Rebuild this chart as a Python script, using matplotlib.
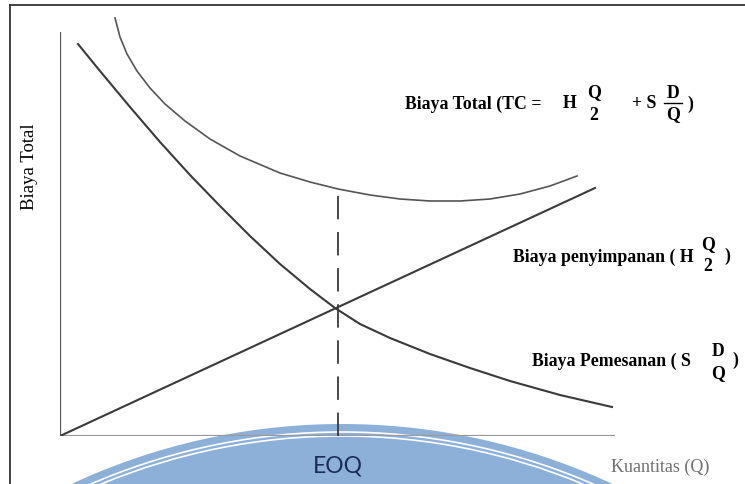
import matplotlib.pyplot as plt
from matplotlib.patches import Circle

# kurva biaya (satuan: piksel dari titik asal grafik)
q_simpan = [0, 535]
c_simpan = [0, 248]

q_pesan = [18, 40, 70, 100, 130, 160, 190, 220, 250, 275, 300, 330, 370, 410, 450, 500, 552]
c_pesan = [392, 365, 329, 294, 261, 230, 200, 172, 147, 128, 112, 98, 82, 68, 55, 41, 29]

q_total = [55, 60, 67, 77, 90, 105, 125, 150, 180, 220, 250, 278, 310, 340, 370, 400, 430, 460, 490, 517]
c_total = [418, 399, 382, 365, 348, 332, 315, 297, 280, 263, 254, 247, 241, 237, 235, 235, 237, 242, 250, 260]

q_eoq = 278
c_eoq = 247

serif = 'Liberation Serif'
garis = '#3a3a3a'

fig = plt.figure(figsize=(7.45, 4.85), dpi=100)

# latar: bingkai, watermark, teks (koordinat piksel)
bg = fig.add_axes([0, 0, 1, 1])
bg.set_xlim(0, 745)
bg.set_ylim(485, 0)
bg.axis('off')

bg.add_patch(Circle((342, 1065), 640, facecolor='#8db0d9', edgecolor='none', zorder=0))
bg.add_patch(Circle((342, 1065), 632, facecolor='none', edgecolor='white', lw=1.2, zorder=1))
bg.add_patch(Circle((342, 1065), 628, facecolor='none', edgecolor='white', lw=1.2, zorder=1))

bg.plot([10, 10], [6, 485], color='#333333', lw=1.3)
bg.plot([10, 745], [6, 6], color='#333333', lw=1.3)

bg.text(30, 167, 'Biaya Total', rotation=90, ha='center', va='center',
        family=serif, fontsize=13.5)

# Biaya Total (TC = H Q/2 + S D/Q)
tb = dict(family=serif, fontsize=12.8, fontweight='bold', va='center')
bg.text(405, 104, 'Biaya Total (TC =', ha='left', **tb)
bg.text(570, 104, 'H', ha='center', **tb)
bg.text(594, 93, 'Q', ha='center', **tb)
bg.text(594, 116, '2', ha='center', **tb)
bg.text(632, 104, '+ S', ha='left', **tb)
bg.text(673, 94, 'D', ha='center', **tb)
bg.plot([664, 682], [104, 104], color='black', lw=1)
bg.text(673, 115, 'Q', ha='center', **tb)
bg.text(690, 104, ')', ha='center', **tb)

# Biaya penyimpanan ( H Q/2 )
bg.text(513, 257, 'Biaya penyimpanan ( H', ha='left', **tb)
bg.text(708, 245, 'Q', ha='center', **tb)
bg.text(708, 267, '2', ha='center', **tb)
bg.text(727, 256, ')', ha='center', **tb)

# Biaya Pemesanan ( S D/Q )
bg.text(532, 361, 'Biaya Pemesanan ( S', ha='left', **tb)
bg.text(718, 352, 'D', ha='center', **tb)
bg.text(718, 374, 'Q', ha='center', **tb)
bg.text(735, 360, ')', ha='center', **tb)

bg.text(338, 466, 'EOQ', ha='center', va='center', family='Lato',
        fontsize=16.5, color='#182c55')
bg.text(660, 467, 'Kuantitas (Q)', ha='center', va='center', family=serif,
        fontsize=13, color='#707070')

# grafik EOQ
ax = fig.add_axes([60 / 745, 48 / 485, 685 / 745, 437 / 485])
ax.set_xlim(0, 685)
ax.set_ylim(0, 437)
ax.patch.set_alpha(0)
ax.axis('off')

ax.plot([0, 0], [0, 404], color='#555555', lw=1.6, solid_capstyle='butt')
ax.plot([0, 555], [0, 0], color='#9a9a9a', lw=1.6, solid_capstyle='butt')

ax.plot(q_simpan, c_simpan, color=garis, lw=1.5)
ax.plot(q_pesan, c_pesan, color=garis, lw=1.5)
ax.plot(q_total, c_total, color='#555555', lw=1.2)
ax.plot([q_eoq, q_eoq], [0, c_eoq], color=garis, lw=1.3, dashes=(13, 7))

fig.savefig('out.png', dpi=100)
